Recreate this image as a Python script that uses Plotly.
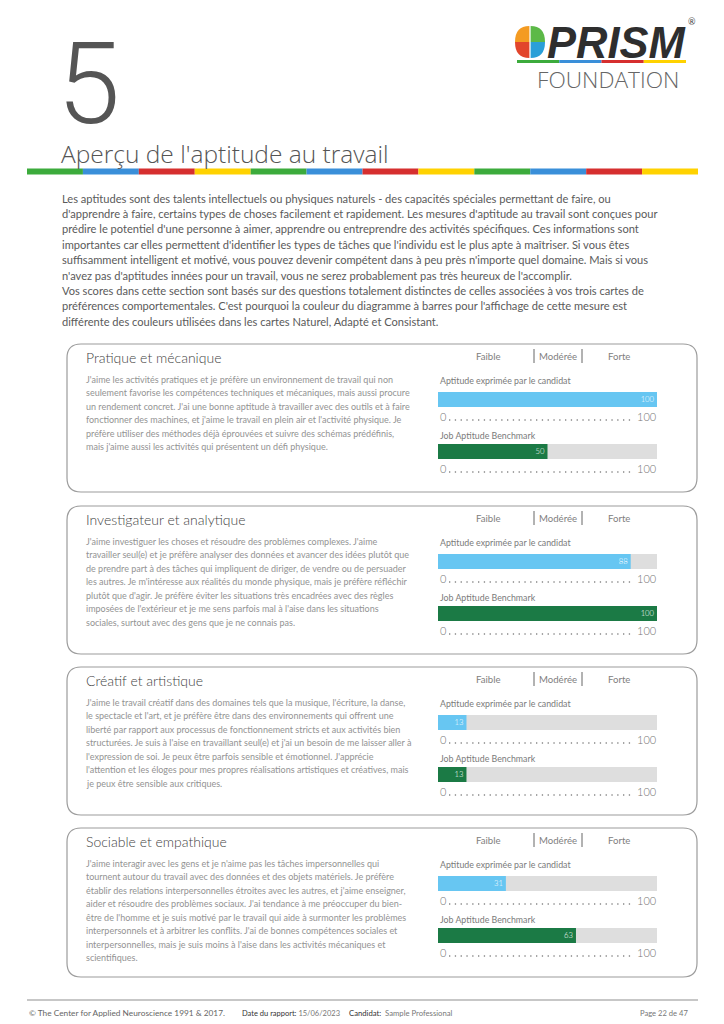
import plotly.graph_objects as go

W, H = 724, 1024

# ---------------- data ----------------
categories = ["Pratique et mécanique", "Investigateur et analytique",
              "Créatif et artistique", "Sociable et empathique"]
candidate_scores = [100, 88, 13, 31]
benchmark_scores = [50, 100, 13, 63]
scale_max = 100
level_labels = ["Faible", "Modérée", "Forte"]
bar_titles = ["Aptitude exprimée par le candidat", "Job Aptitude Benchmark"]
scale_tick_labels = ["0", "100"]

section_number = "5"
page_title = "Aperçu de l'aptitude au travail"

intro_lines = [
    "Les aptitudes sont des talents intellectuels ou physiques naturels - des capacités spéciales permettant de faire, ou",
    "d'apprendre à faire, certains types de choses facilement et rapidement. Les mesures d'aptitude au travail sont conçues pour",
    "prédire le potentiel d'une personne à aimer, apprendre ou entreprendre des activités spécifiques. Ces informations sont",
    "importantes car elles permettent d'identifier les types de tâches que l'individu est le plus apte à maîtriser. Si vous êtes",
    "suffisamment intelligent et motivé, vous pouvez devenir compétent dans à peu près n'importe quel domaine. Mais si vous",
    "n'avez pas d'aptitudes innées pour un travail, vous ne serez probablement pas très heureux de l'accomplir.",
    "Vos scores dans cette section sont basés sur des questions totalement distinctes de celles associées à vos trois cartes de",
    "préférences comportementales. C'est pourquoi la couleur du diagramme à barres pour l'affichage de cette mesure est",
    "différente des couleurs utilisées dans les cartes Naturel, Adapté et Consistant.",
]

descriptions = [
    [
        "J'aime les activités pratiques et je préfère un environnement de travail qui non",
        "seulement favorise les compétences techniques et mécaniques, mais aussi procure",
        "un rendement concret. J'ai une bonne aptitude à travailler avec des outils et à faire",
        "fonctionner des machines, et j'aime le travail en plein air et l'activité physique. Je",
        "préfère utiliser des méthodes déjà éprouvées et suivre des schémas prédéfinis,",
        "mais j'aime aussi les activités qui présentent un défi physique.",
    ],
    [
        "J'aime investiguer les choses et résoudre des problèmes complexes. J'aime",
        "travailler seul(e) et je préfère analyser des données et avancer des idées plutôt que",
        "de prendre part à des tâches qui impliquent de diriger, de vendre ou de persuader",
        "les autres. Je m'intéresse aux réalités du monde physique, mais je préfère réfléchir",
        "plutôt que d'agir. Je préfère éviter les situations très encadrées avec des règles",
        "imposées de l'extérieur et je me sens parfois mal à l'aise dans les situations",
        "sociales, surtout avec des gens que je ne connais pas.",
    ],
    [
        "J'aime le travail créatif dans des domaines tels que la musique, l'écriture, la danse,",
        "le spectacle et l'art, et je préfère être dans des environnements qui offrent une",
        "liberté par rapport aux processus de fonctionnement stricts et aux activités bien",
        "structurées. Je suis à l'aise en travaillant seul(e) et j'ai un besoin de me laisser aller à",
        "l'expression de soi. Je peux être parfois sensible et émotionnel. J'apprécie",
        "l'attention et les éloges pour mes propres réalisations artistiques et créatives, mais",
        "je peux être sensible aux critiques.",
    ],
    [
        "J'aime interagir avec les gens et je n'aime pas les tâches impersonnelles qui",
        "tournent autour du travail avec des données et des objets matériels. Je préfère",
        "établir des relations interpersonnelles étroites avec les autres, et j'aime enseigner,",
        "aider et résoudre des problèmes sociaux. J'ai tendance à me préoccuper du bien-",
        "être de l'homme et je suis motivé par le travail qui aide à surmonter les problèmes",
        "interpersonnels et à arbitrer les conflits. J'ai de bonnes compétences sociales et",
        "interpersonnelles, mais je suis moins à l'aise dans les activités mécaniques et",
        "scientifiques.",
    ],
]

footer_left = "© The Center for Applied Neuroscience 1991 &amp; 2017."
footer_date_label = "Date du rapport:"
footer_date = "15/06/2023"
footer_cand_label = "Candidat:"
footer_cand = "Sample Professional"
footer_page = "Page 22 de 47"

# ---------------- styling / layout constants ----------------
BODY = "Lato"
STRIPE = ["#3cab3c", "#3a8fd9", "#d62f2f", "#ffd200"]
BLUE = "#67c6f2"
GREEN = "#1b7a45"
TRACK = "#dedede"

BOX_TOPS = [344, 506, 667, 828]
BOX_H = [148, 148, 148, 149]
BOX_X0, BOX_X1 = 67, 697
BAR_X0, BAR_X1 = 438, 657

fig = go.Figure()
shapes = []
ann = []


def txt(x, y, s, size, color="#444", anchor="left", family=BODY, weight=None, yanchor="middle"):
    f = dict(family=family, size=size, color=color)
    if weight is not None:
        f["weight"] = weight
    ann.append(dict(x=x, y=y, xref="x", yref="y", text=s, showarrow=False,
                    xanchor=anchor, yanchor=yanchor, font=f))


def rect(x0, y0, x1, y1, color):
    shapes.append(dict(type="rect", xref="x", yref="y", x0=x0, y0=y0, x1=x1, y1=y1,
                       fillcolor=color, line=dict(width=0), layer="above"))


def rrect(x0, y0, x1, y1, r):
    return (f"M{x0+r},{y0} L{x1-r},{y0} Q{x1},{y0} {x1},{y0+r} L{x1},{y1-r} "
            f"Q{x1},{y1} {x1-r},{y1} L{x0+r},{y1} Q{x0},{y1} {x0},{y1-r} "
            f"L{x0},{y0+r} Q{x0},{y0} {x0+r},{y0} Z")


# canvas trace (invisible)
fig.add_trace(go.Scatter(x=[0, W], y=[0, H], mode="markers", marker=dict(opacity=0),
                         hoverinfo="skip", showlegend=False))

# ---- header ----
txt(55, 84, section_number, 114, "#555", family="Roboto", weight=300)
txt(59, 153, page_title, 24.5, "#555", family="Open Sans", weight=300)
seg = (698 - 27) / 12
for i in range(12):
    rect(27 + i * seg, 168.5, 27 + (i + 1) * seg, 174.5, STRIPE[i % 4])

# logo
cx, cy = 530, 42
quads = [
    (f"M{cx-0.6},{cy} L{cx-0.6},{cy-16} Q{cx-15},{cy-16} {cx-15},{cy} Z", "#f49b22"),
    (f"M{cx-0.6},{cy} L{cx-15},{cy} Q{cx-15},{cy+16} {cx-0.6},{cy+16} Z", "#e2452c"),
    (f"M{cx+0.6},{cy} L{cx+0.6},{cy-16} Q{cx+15},{cy-16} {cx+15},{cy} Z", "#5cb947"),
    (f"M{cx+0.6},{cy} L{cx+15},{cy} Q{cx+15},{cy+16} {cx+0.6},{cy+16} Z", "#2a9fd8"),
]
for p, c in quads:
    shapes.append(dict(type="path", xref="x", yref="y", path=p, fillcolor=c,
                       line=dict(width=0), layer="above"))
txt(545, 43, "<b><i>PRISM</i></b>", 43.5, "#2e2e2e", family="Liberation Sans")
txt(692, 21, "®", 9, "#444", anchor="center")
lseg = (686 - 517) / 4
for i in range(4):
    rect(517 + i * lseg, 60, 517 + (i + 1) * lseg, 63, STRIPE[i])
txt(608, 79, "FOUNDATION", 22.7, "#666", anchor="center", family="Open Sans", weight=300)

# ---- intro ----
for i, line in enumerate(intro_lines):
    txt(60, 198 + i * 15.4, line, 11.1, "#5a5a5a")

# ---- boxes ----
ax_idx = 2
for b, cat in enumerate(categories):
    top = BOX_TOPS[b]
    bot = top + BOX_H[b]
    shapes.append(dict(type="path", xref="x", yref="y", path=rrect(BOX_X0, top, BOX_X1, bot, 14),
                       line=dict(color="#9c9c9c", width=1.2), fillcolor="rgba(0,0,0,0)"))
    txt(84, top + 13.5, cat, 14, "#444", weight=300)
    for i, line in enumerate(descriptions[b]):
        txt(84, top + 35 + i * 13.5, line, 9.0, "#939393")

    # level header
    txt(488, top + 12, level_labels[0], 9.6, "#808080", anchor="center")
    txt(558, top + 12, level_labels[1], 9.6, "#808080", anchor="center")
    txt(619, top + 12, level_labels[2], 9.6, "#808080", anchor="center")
    for sx in (534, 582):
        shapes.append(dict(type="line", xref="x", yref="y", x0=sx, x1=sx, y0=top + 5, y1=top + 19,
                           line=dict(color="#666", width=1)))

    vals = [candidate_scores[b], benchmark_scores[b]]
    cols = [BLUE, GREEN]
    label_y = [top + 36, top + 91]
    bar_y = [(top + 48, top + 63), (top + 100, top + 115)]
    dots_y = [top + 72, top + 124]
    for j in range(2):
        txt(BAR_X0, label_y[j], bar_titles[j], 8.8, "#7a7a7a")
        y0, y1 = bar_y[j]
        xa = f"xaxis{ax_idx}"
        ya = f"yaxis{ax_idx}"
        fig.update_layout({
            xa: dict(domain=[BAR_X0 / W, BAR_X1 / W], range=[0, scale_max], visible=False,
                     anchor=f"y{ax_idx}", fixedrange=True),
            ya: dict(domain=[1 - y1 / H, 1 - y0 / H], range=[-0.5, 0.5], visible=False,
                     anchor=f"x{ax_idx}", fixedrange=True),
        })
        fig.add_trace(go.Bar(x=[scale_max], y=[0], orientation="h", width=1,
                             marker=dict(color=TRACK, line=dict(width=0)),
                             xaxis=f"x{ax_idx}", yaxis=f"y{ax_idx}", hoverinfo="skip",
                             showlegend=False))
        fig.add_trace(go.Bar(x=[vals[j]], y=[0], orientation="h", width=1,
                             marker=dict(color=cols[j], line=dict(width=0)),
                             text=[str(vals[j])], textposition="inside", insidetextanchor="end",
                             textangle=0, textfont=dict(family=BODY, size=8.5, color="white", weight=300),
                             xaxis=f"x{ax_idx}", yaxis=f"y{ax_idx}", hoverinfo="skip",
                             showlegend=False))
        ax_idx += 1
        # scale line
        txt(BAR_X0, dots_y[j], scale_tick_labels[0], 11, "#777", weight=300)
        txt(BAR_X1 + 1, dots_y[j], scale_tick_labels[1], 11, "#777", anchor="right", weight=300)
        shapes.append(dict(type="line", xref="x", yref="y", x0=BAR_X0 + 11, x1=BAR_X1 - 24,
                           y0=dots_y[j] + 4, y1=dots_y[j] + 4,
                           line=dict(color="#888", width=1.3, dash="1.3px,4.5px")))

# ---- footer ----
shapes.append(dict(type="line", xref="x", yref="y", x0=27, x1=698, y0=1000, y1=1000,
                   line=dict(color="#b5b5b5", width=1.5)))
txt(27, 1013, footer_left, 8.3, "#666")
txt(240, 1013, f"<span style='color:#333'>{footer_date_label}</span> {footer_date}", 7.5, "#777")
txt(347, 1013, f"<span style='color:#333'>{footer_cand_label}</span>  {footer_cand}", 7.7, "#777")
txt(690, 1013, footer_page, 7.6, "#777", anchor="right")

fig.update_layout(
    width=W, height=H, margin=dict(l=0, r=0, t=0, b=0),
    paper_bgcolor="white", plot_bgcolor="rgba(0,0,0,0)",
    xaxis=dict(range=[0, W], domain=[0, 1], visible=False, fixedrange=True),
    yaxis=dict(range=[H, 0], domain=[0, 1], visible=False, fixedrange=True),
    barmode="overlay", showlegend=False, hovermode=False,
    shapes=shapes, annotations=ann,
)

fig.write_html("out.html", config={"displayModeBar": False},
               post_script="document.body.style.margin='0';document.body.style.overflow='hidden';")
